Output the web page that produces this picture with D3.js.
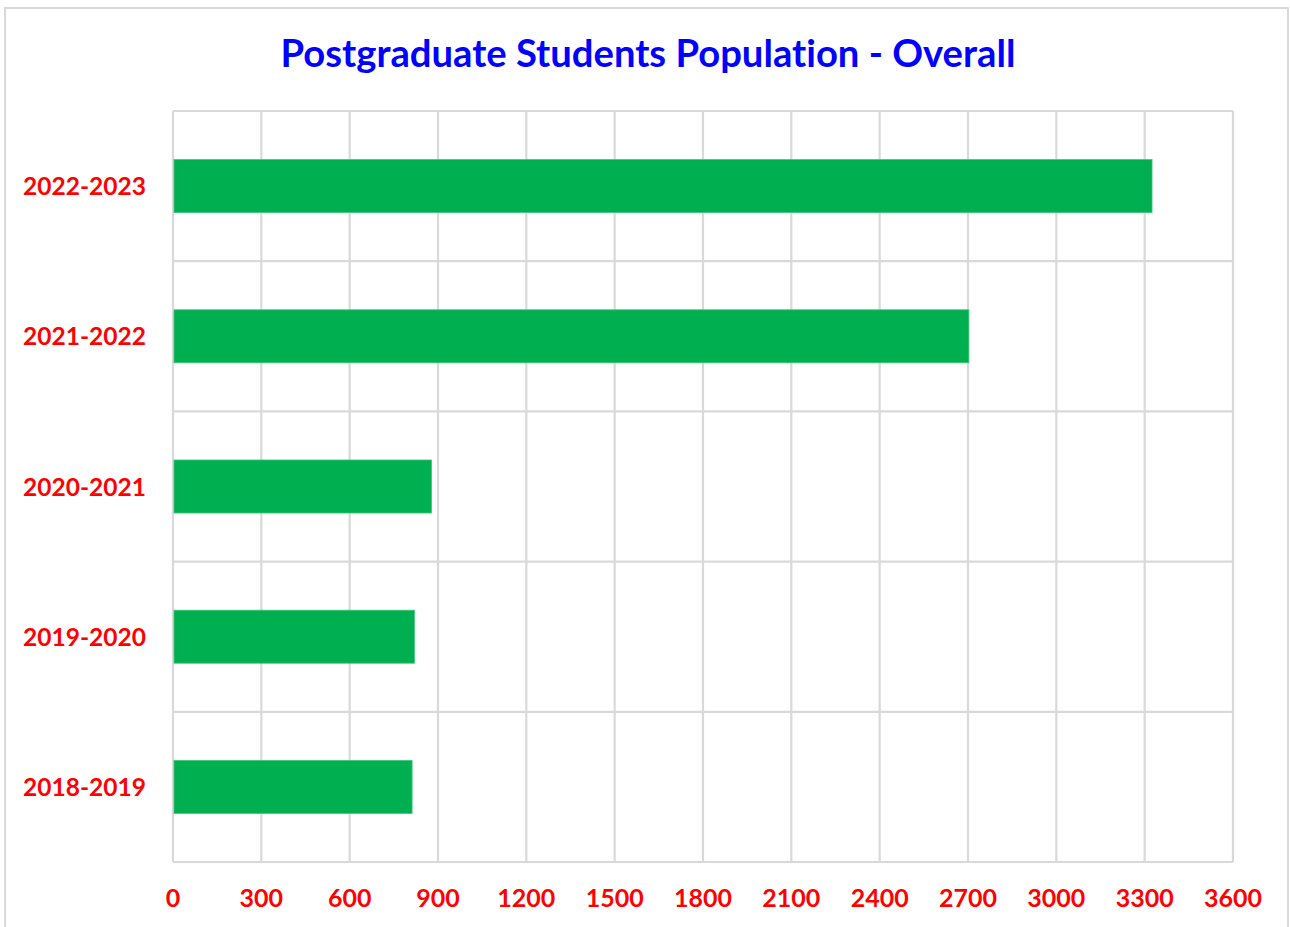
<!DOCTYPE html>
<html>
<head>
<meta charset="utf-8">
<script src="https://cdn.jsdelivr.net/npm/d3@7"></script>
<style>
  body { margin: 0; background: #fff; }
  text { font-family: Lato, "Open Sans", sans-serif; font-weight: bold; font-variant-ligatures: none; }
</style>
</head>
<body>
<svg id="chart" width="1290" height="927"></svg>
<script>
var title = "Postgraduate Students Population - Overall";
var years = ["2022-2023", "2021-2022", "2020-2021", "2019-2020", "2018-2019"];
var students = [3325, 2703, 878, 820, 812];
var xTicks = [0, 300, 600, 900, 1200, 1500, 1800, 2100, 2400, 2700, 3000, 3300, 3600];

var svg = d3.select("#chart");

// fit font size so the text width matches the reference
function fitText(sel, width) {
    sel.style("font-size", "100px");
    var w = sel.node().getComputedTextLength();
    sel.style("font-size", (100 * width / w) + "px");
}

// outer chart border
svg.append("rect")
    .attr("x", 5).attr("y", 8)
    .attr("width", 1283).attr("height", 930)
    .attr("fill", "none")
    .attr("stroke", "#d9d9d9")
    .attr("stroke-width", 2);

var x = d3.scaleLinear().domain([0, 3600]).range([173, 1233]);
var y = d3.scaleBand().domain(years).range([111, 862])
    .paddingInner(0.647).paddingOuter(0.3235);
var step = y.step();

// vertical gridlines
svg.append("g").selectAll("line")
    .data(xTicks)
    .enter().append("line")
    .attr("x1", function(d) { return x(d); })
    .attr("x2", function(d) { return x(d); })
    .attr("y1", 111).attr("y2", 862)
    .attr("stroke", "#d9d9d9")
    .attr("stroke-width", 2.2);

// horizontal separators between categories
var edges = years.map(function(d) { return y(d) + y.bandwidth() / 2 - step / 2; });
edges.push(y(years[years.length - 1]) + y.bandwidth() / 2 + step / 2);
svg.append("g").selectAll("line")
    .data(edges)
    .enter().append("line")
    .attr("x1", 173).attr("x2", 1233)
    .attr("y1", function(d) { return d; })
    .attr("y2", function(d) { return d; })
    .attr("stroke", "#d9d9d9")
    .attr("stroke-width", 2.2);

// bars
svg.append("g").selectAll("rect")
    .data(students)
    .enter().append("rect")
    .attr("x", x(0) + 1)
    .attr("y", function(d, i) { return y(years[i]); })
    .attr("width", function(d) { return x(d) - x(0) - 1; })
    .attr("height", y.bandwidth())
    .attr("fill", "#00b050")
    .attr("stroke", "#3fc67a")
    .attr("stroke-width", 0.8);

// category labels
svg.append("g").selectAll("text")
    .data(years)
    .enter().append("text")
    .attr("x", 146)
    .attr("y", function(d) { return y(d) + y.bandwidth() / 2 + 9; })
    .attr("text-anchor", "end")
    .attr("fill", "#ff0000")
    .text(function(d) { return d; })
    .each(function() { fitText(d3.select(this), 123); });

// x tick labels
svg.append("g").selectAll("text")
    .data(xTicks)
    .enter().append("text")
    .attr("x", function(d) { return x(d); })
    .attr("y", 907)
    .attr("text-anchor", "middle")
    .attr("fill", "#ff0000")
    .text(function(d) { return d; })
    .style("font-size", "25px");

// title
svg.append("text")
    .attr("x", 648)
    .attr("y", 67)
    .attr("text-anchor", "middle")
    .attr("fill", "#0000ff")
    .text(title)
    .call(fitText, 735);
</script>
</body>
</html>
